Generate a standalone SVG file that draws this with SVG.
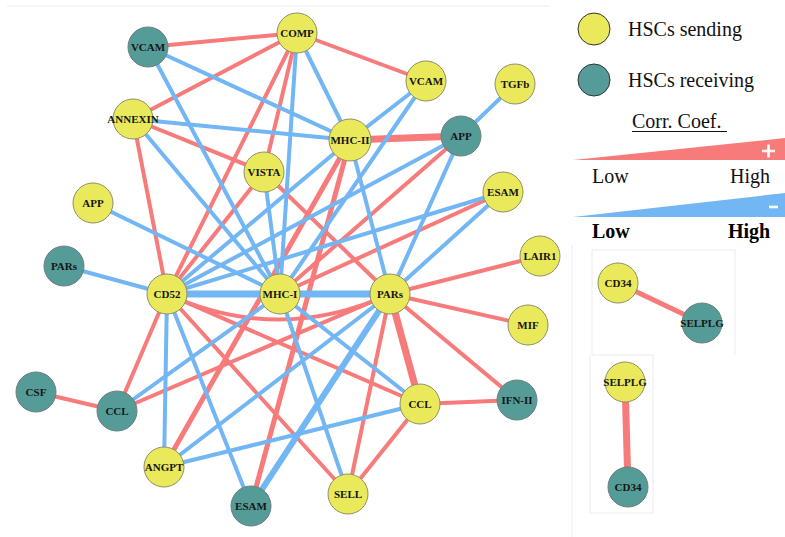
<svg xmlns="http://www.w3.org/2000/svg" width="785" height="537" viewBox="0 0 785 537">
<style>
.r{stroke:#f77b7b;stroke-width:4;fill:none;stroke-linecap:round}
.b{stroke:#72b6f4;stroke-width:4;fill:none;stroke-linecap:round}
.y{fill:#e9e95b;stroke:#8f8f6a;stroke-width:1}
.t{fill:#559c98;stroke:#6e7f7e;stroke-width:1}
.lbl{font-family:"Liberation Serif",serif;font-weight:bold;font-size:11px;fill:#151515;text-anchor:middle}
.leg{font-family:"Liberation Serif",serif;font-size:20px;fill:#111}
.legb{font-family:"Liberation Serif",serif;font-size:20px;font-weight:bold;fill:#000}
.frame{stroke:#f2f2f2;stroke-width:1.5;fill:none}
</style>
<rect width="785" height="537" fill="#ffffff"/>
<line class="frame" x1="7" y1="6" x2="550" y2="6"/>
<line class="frame" x1="572" y1="245" x2="572" y2="537"/>
<path class="frame" d="M592,250 H735 V355 M592,250 V355 H653 V513 H590 V355"/>
<g id="connectors">
<line class="r" x1="148" y1="47" x2="297" y2="33"/>
<line class="r" x1="133" y1="119" x2="297" y2="33"/>
<line class="r" x1="297" y1="33" x2="426" y2="81"/>
<line class="r" x1="297" y1="33" x2="167" y2="294"/>
<line class="r" x1="297" y1="33" x2="264" y2="172"/>
<line class="r" x1="133" y1="119" x2="264" y2="172"/>
<line class="r" x1="133" y1="119" x2="167" y2="294"/>
<line class="r" x1="264" y1="172" x2="167" y2="294"/>
<line class="r" x1="264" y1="172" x2="390" y2="294"/>
<line class="r" x1="350" y1="140" x2="461" y2="136" style="stroke-width:7"/>
<line class="r" x1="461" y1="136" x2="280" y2="294"/>
<line class="r" x1="503" y1="192" x2="280" y2="294"/>
<line class="r" x1="350" y1="140" x2="164" y2="467" style="stroke-width:5"/>
<line class="r" x1="350" y1="140" x2="251" y2="506" style="stroke-width:5"/>
<line class="r" x1="390" y1="294" x2="540" y2="256"/>
<line class="r" x1="390" y1="294" x2="528" y2="325"/>
<line class="r" x1="390" y1="294" x2="517" y2="400"/>
<line class="r" x1="390" y1="294" x2="420" y2="404" style="stroke-width:7"/>
<line class="r" x1="390" y1="294" x2="348" y2="494"/>
<line class="r" x1="420" y1="404" x2="517" y2="400"/>
<line class="r" x1="420" y1="404" x2="348" y2="494"/>
<line class="r" x1="420" y1="404" x2="167" y2="294"/>
<line class="r" x1="348" y1="494" x2="167" y2="294"/>
<line class="r" x1="117" y1="411" x2="167" y2="294"/>
<line class="r" x1="117" y1="411" x2="390" y2="294"/>
<line class="r" x1="36" y1="392" x2="117" y2="411"/>
<path class="r" d="M167,294 Q278,345 390,294"/>
<line class="b" x1="148" y1="47" x2="350" y2="140"/>
<line class="b" x1="148" y1="47" x2="280" y2="294"/>
<line class="b" x1="297" y1="33" x2="350" y2="140"/>
<line class="b" x1="297" y1="33" x2="280" y2="294"/>
<line class="b" x1="426" y1="81" x2="350" y2="140"/>
<line class="b" x1="426" y1="81" x2="280" y2="294"/>
<line class="b" x1="515" y1="84" x2="461" y2="136"/>
<line class="b" x1="133" y1="119" x2="350" y2="140"/>
<line class="b" x1="133" y1="119" x2="280" y2="294"/>
<line class="b" x1="264" y1="172" x2="280" y2="294"/>
<line class="b" x1="93" y1="203" x2="280" y2="294"/>
<line class="b" x1="64" y1="266" x2="167" y2="294"/>
<line class="b" x1="167" y1="294" x2="280" y2="294" style="stroke-width:7"/>
<line class="b" x1="280" y1="294" x2="390" y2="294" style="stroke-width:7"/>
<line class="b" x1="167" y1="294" x2="350" y2="140"/>
<line class="b" x1="167" y1="294" x2="461" y2="136"/>
<line class="b" x1="167" y1="294" x2="503" y2="192"/>
<line class="b" x1="461" y1="136" x2="390" y2="294"/>
<line class="b" x1="503" y1="192" x2="390" y2="294"/>
<line class="b" x1="350" y1="140" x2="390" y2="294"/>
<line class="b" x1="167" y1="294" x2="164" y2="467"/>
<line class="b" x1="167" y1="294" x2="251" y2="506"/>
<line class="b" x1="164" y1="467" x2="390" y2="294"/>
<line class="b" x1="164" y1="467" x2="420" y2="404"/>
<line class="b" x1="251" y1="506" x2="390" y2="294" style="stroke-width:6"/>
<line class="b" x1="348" y1="494" x2="280" y2="294"/>
<line class="b" x1="420" y1="404" x2="280" y2="294"/>
<line class="b" x1="117" y1="411" x2="280" y2="294"/>
<line class="r" x1="618" y1="283" x2="702" y2="323" style="stroke-width:5"/>
<line class="r" x1="625" y1="382" x2="628" y2="487" style="stroke-width:7"/>
</g>
<g id="n-vcam-r"><circle class="t" cx="148" cy="47" r="20"/><text class="lbl" x="148" y="51">VCAM</text></g>
<g id="n-comp"><circle class="y" cx="297" cy="33" r="20"/><text class="lbl" x="297" y="37">COMP</text></g>
<g id="n-vcam-s"><circle class="y" cx="426" cy="81" r="20"/><text class="lbl" x="426" y="85">VCAM</text></g>
<g id="n-tgfb"><circle class="y" cx="515" cy="84" r="20"/><text class="lbl" x="515" y="88">TGFb</text></g>
<g id="n-annexin"><circle class="y" cx="133" cy="119" r="20"/><text class="lbl" x="133" y="123">ANNEXIN</text></g>
<g id="n-mhc2"><circle class="y" cx="350" cy="140" r="21"/><text class="lbl" x="350" y="144">MHC-II</text></g>
<g id="n-app-r"><circle class="t" cx="461" cy="136" r="20"/><text class="lbl" x="461" y="140">APP</text></g>
<g id="n-vista"><circle class="y" cx="264" cy="172" r="20"/><text class="lbl" x="264" y="176">VISTA</text></g>
<g id="n-app-s"><circle class="y" cx="93" cy="203" r="20"/><text class="lbl" x="93" y="207">APP</text></g>
<g id="n-esam-s"><circle class="y" cx="503" cy="192" r="20"/><text class="lbl" x="503" y="196">ESAM</text></g>
<g id="n-lair1"><circle class="y" cx="540" cy="256" r="20"/><text class="lbl" x="540" y="260">LAIR1</text></g>
<g id="n-pars-r"><circle class="t" cx="64" cy="266" r="20"/><text class="lbl" x="64" y="270">PARs</text></g>
<g id="n-cd52"><circle class="y" cx="167" cy="294" r="20"/><text class="lbl" x="167" y="298">CD52</text></g>
<g id="n-mhc1"><circle class="y" cx="280" cy="294" r="20"/><text class="lbl" x="280" y="298">MHC-I</text></g>
<g id="n-pars-s"><circle class="y" cx="390" cy="294" r="20"/><text class="lbl" x="390" y="298">PARs</text></g>
<g id="n-mif"><circle class="y" cx="528" cy="325" r="20"/><text class="lbl" x="528" y="329">MIF</text></g>
<g id="n-csf"><circle class="t" cx="36" cy="392" r="20"/><text class="lbl" x="36" y="396">CSF</text></g>
<g id="n-ccl-r"><circle class="t" cx="117" cy="411" r="20"/><text class="lbl" x="117" y="415">CCL</text></g>
<g id="n-ccl-s"><circle class="y" cx="420" cy="404" r="20"/><text class="lbl" x="420" y="408">CCL</text></g>
<g id="n-ifn2"><circle class="t" cx="517" cy="400" r="20"/><text class="lbl" x="517" y="404">IFN-II</text></g>
<g id="n-angpt"><circle class="y" cx="164" cy="467" r="20"/><text class="lbl" x="164" y="471">ANGPT</text></g>
<g id="n-esam-r"><circle class="t" cx="251" cy="506" r="20"/><text class="lbl" x="251" y="510">ESAM</text></g>
<g id="n-sell"><circle class="y" cx="348" cy="494" r="20"/><text class="lbl" x="348" y="498">SELL</text></g>
<g id="n-cd34-s"><circle class="y" cx="618" cy="283" r="20"/><text class="lbl" x="618" y="287">CD34</text></g>
<g id="n-selplg-r"><circle class="t" cx="702" cy="323" r="20"/><text class="lbl" x="702" y="327">SELPLG</text></g>
<g id="n-selplg-s"><circle class="y" cx="625" cy="382" r="20"/><text class="lbl" x="625" y="386">SELPLG</text></g>
<g id="n-cd34-r"><circle class="t" cx="628" cy="487" r="20"/><text class="lbl" x="628" y="491">CD34</text></g>
<g id="legend">
<circle cx="594" cy="29" r="16" fill="#e9e95b" stroke="#333" stroke-width="1"/>
<text class="leg" x="628" y="36">HSCs sending</text>
<circle cx="594" cy="80" r="16" fill="#559c98" stroke="#333" stroke-width="1"/>
<text class="leg" x="628" y="87">HSCs receiving</text>
<text class="leg" x="632" y="128">Corr. Coef.</text>
<line x1="632" y1="131.5" x2="727" y2="131.5" stroke="#111" stroke-width="1"/>
<polygon points="573,160 785,138 785,160" fill="#f77b7b"/>
<path d="M762,151 H775 M768.5,144.5 V157.5" stroke="#ffffff" stroke-width="2.6"/>
<text class="leg" x="592" y="183">Low</text>
<text class="leg" x="730" y="183">High</text>
<polygon points="573,217 785,193 785,217" fill="#72b6f4"/>
<line x1="769" y1="207" x2="778" y2="207" stroke="#ffffff" stroke-width="2.6"/>
<text class="legb" x="592" y="238">Low</text>
<text class="legb" x="728" y="238">High</text>
</g>
</svg>
